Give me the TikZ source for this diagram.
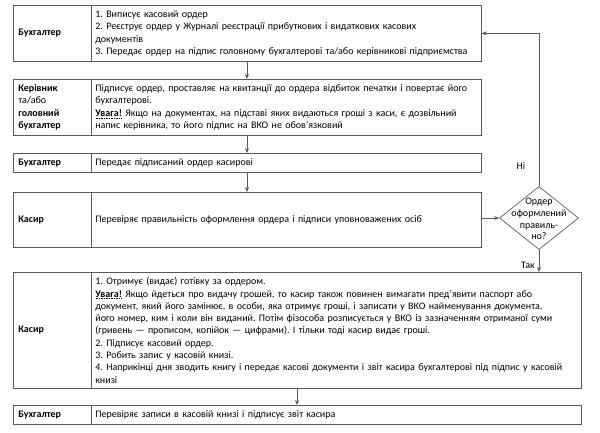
\documentclass[tikz,border=0pt]{standalone}
\usepackage{fontspec}
\setmainfont{Carlito}
\usetikzlibrary{arrows.meta,shapes.geometric}
\definecolor{linec}{HTML}{5A5A5A}
\newcommand\uvg{\leavevmode\setbox0\hbox{\textbf{Увага!}}\rlap{\raisebox{-2pt}{\hbox to \wd0{\xleaders\hbox to 1.6pt{\hss\rule{0.8pt}{0.6pt}\hss}\hfill}}}\box0}
\newcommand\fs{\fontsize{10}{12.3}\selectfont\frenchspacing}
\begin{document}
\begin{tikzpicture}[x=1pt,y=-1pt,
  cellbase/.style={draw=linec, line width=0.7pt, rectangle, inner ysep=0pt, anchor=north west, align=left, font=\fs},
  lcell/.style={cellbase, inner xsep=5pt, text width=68pt},
  rcell/.style={cellbase, inner xsep=4pt, text width=382pt},
  wcell/.style={cellbase, inner xsep=4pt, text width=482pt},
  dia/.style={draw=linec, line width=0.7pt, diamond, shape aspect=1.25, inner sep=0pt, minimum width=79pt, minimum height=63pt},
  arr/.style={draw=linec, line width=0.7pt, -{Stealth[length=5pt,width=4pt]}},
  lbl/.style={font=\fs, inner sep=1pt}]
\useasboundingbox (0,0) rectangle (600,432);
% row 1
\node[lcell, minimum height=56pt] (L1) at (13,5) {\textbf{Бухгалтер}};
\node[rcell, minimum height=56pt] (R1) at (91,5) {1. Виписує касовий ордер\\2. Реєструє ордер у Журналі реєстрації прибуткових і видаткових касових\\документів\\3. Передає ордер на підпис головному бухгалтерові та/або керівникові підприємства};
% row 2
\node[lcell, minimum height=56pt] (L2) at (13,79) {\textbf{Керівник}\\та/або\\\textbf{головний}\\\textbf{бухгалтер}};
\node[rcell, minimum height=56pt] (R2) at (91,79) {Підписує ордер, проставляє на квитанції до ордера відбиток печатки і повертає його\\бухгалтерові.\\\uvg{} Якщо на документах, на підставі яких видаються гроші з каси, є дозвільний\\напис керівника, то його підпис на ВКО не обов’язковий};
% row 3
\node[lcell, minimum height=19pt] (L3) at (13,153) {\textbf{Бухгалтер}};
\node[rcell, minimum height=19pt] (R3) at (91,153) {Передає підписаний ордер касирові};
% row 4
\node[lcell, minimum height=55pt] (L4) at (13,192) {\textbf{Касир}};
\node[rcell, minimum height=55pt] (R4) at (91,192) {Перевіряє правильність оформлення ордера і підписи уповноважених осіб};
% decision
\node[dia] (D) at (539,218) {};
\node[font=\fontsize{10}{11.8}\selectfont, align=center, inner sep=0pt] (Dt) at (539,219) {Ордер\\оформлений\\правиль-\\но?};
% row 5
\node[lcell, minimum height=116pt] (L5) at (13,272) {\textbf{Касир}};
\node[wcell, minimum height=116pt] (R5) at (91,272) {1. Отримує (видає) готівку за ордером.\\\uvg{} Якщо йдеться про видачу грошей, то касир також повинен вимагати пред’явити паспорт або\\документ, який його замінює, в особи, яка отримує гроші, і записати у ВКО найменування документа,\\його номер, ким і коли він виданий. Потім фізособа розписується у ВКО із зазначенням отриманої суми\\(гривень — прописом, копійок — цифрами). І тільки тоді касир видає гроші.\\2. Підписує касовий ордер.\\3. Робить запис у касовій книзі.\\4. Наприкінці дня зводить книгу і передає касові документи і звіт касира бухгалтерові під підпис у касовій\\книзі};
% row 6
\node[lcell, minimum height=19pt] (L6) at (13,405) {\textbf{Бухгалтер}};
\node[wcell, minimum height=19pt] (R6) at (91,405) {Перевіряє записи в касовій книзі і підписує звіт касира};
% connectors
\coordinate (ax) at (247,0);
\coordinate (bx) at (297,0);
\draw[arr] (ax |- R1.south) -- (ax |- R2.north);
\draw[arr] (ax |- R2.south) -- (ax |- R3.north);
\draw[arr] (ax |- R3.south) -- (ax |- R4.north);
\draw[arr] (R4.east |- D.west) -- (D.west);
\draw[arr] (D.north) |- (R1.east);
\draw[arr] (D.south) -- (D.south |- R5.north);
\draw[arr] (bx |- R5.south) -- (bx |- R6.north);
\node[lbl] (ni) at (521,166) {Ні};
\node[lbl, anchor=east] (tak) at (536,265) {Так};
\end{tikzpicture}
\end{document}
